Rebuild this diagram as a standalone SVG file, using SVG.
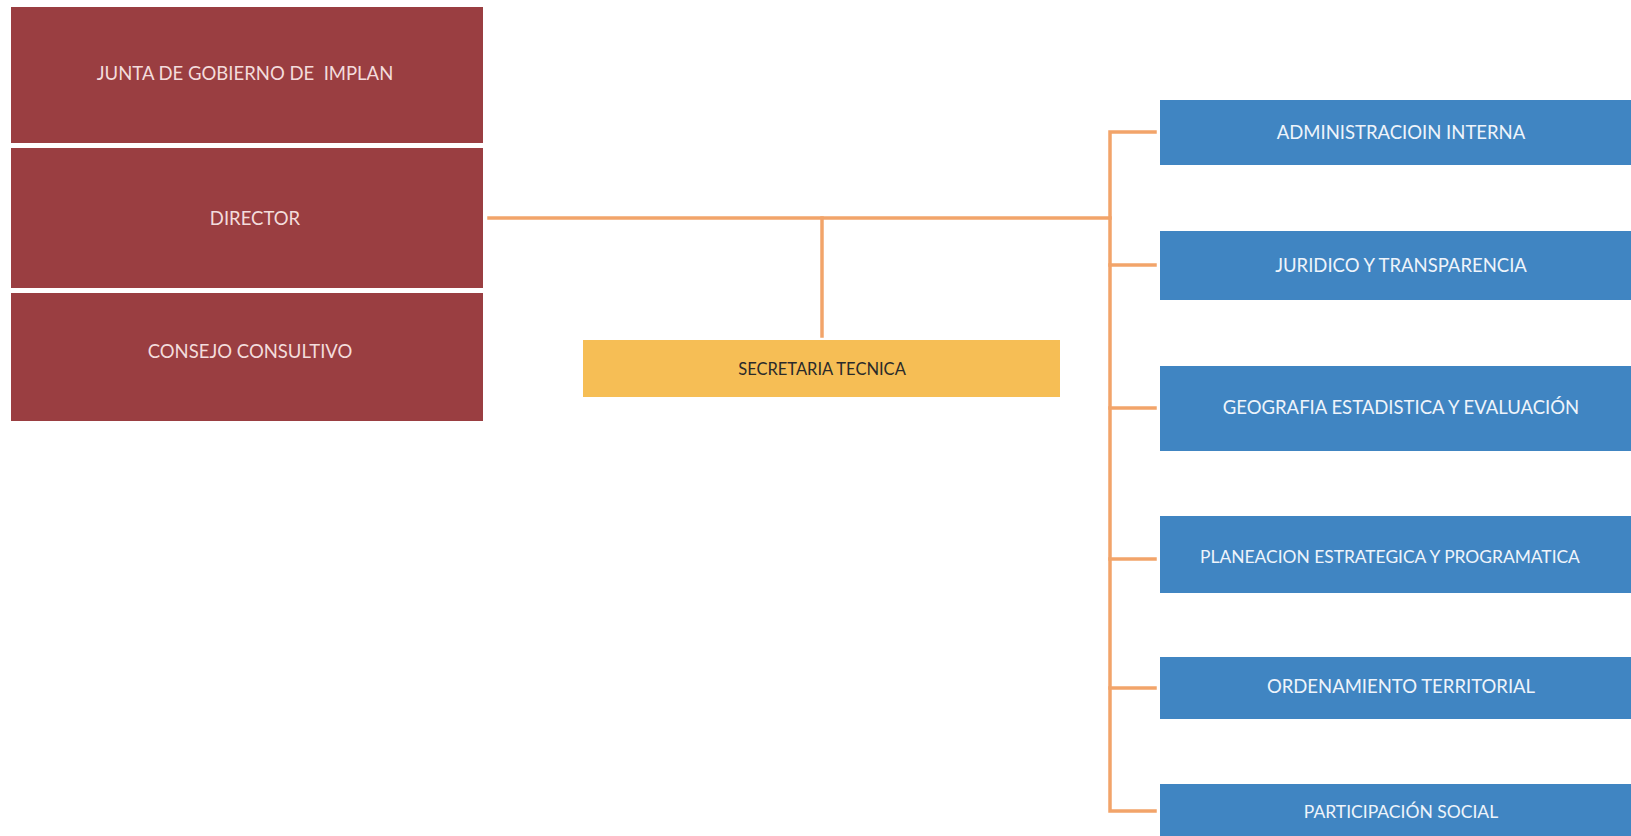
<svg xmlns="http://www.w3.org/2000/svg" width="1631" height="836" viewBox="0 0 1631 836">
<style>
.t{font-family:Lato,"Liberation Sans",sans-serif;font-size:18.5px;text-anchor:middle;dominant-baseline:central;white-space:pre}
.red rect{fill:#9a3e41}
.red text{fill:#f3dcdc}
.blue rect{fill:#4085c2}
.blue text{fill:#eef4fb}
.yel rect{fill:#f6be55}
.yel text{fill:#2a2a2a;font-size:16.5px}
.conn{stroke:#f2a46a;stroke-width:3.5;fill:none;stroke-linecap:square;stroke-linejoin:miter}
</style>
<rect width="1631" height="836" fill="#ffffff"/>
<g class="conn" id="connectors">
<path d="M489 218 H1110"/>
<path d="M822 218 V336"/>
<path d="M1155 132 H1110 V811 H1155"/>
<path d="M1110 265 H1155"/>
<path d="M1110 408 H1155"/>
<path d="M1110 559 H1155"/>
<path d="M1110 688 H1155"/>
</g>
<g id="junta" class="red"><rect x="11" y="7" width="472" height="136"/><text class="t" x="245" y="73">JUNTA DE GOBIERNO DE  IMPLAN</text></g>
<g id="director" class="red"><rect x="11" y="148" width="472" height="140"/><text class="t" x="255" y="218">DIRECTOR</text></g>
<g id="consejo" class="red"><rect x="11" y="293" width="472" height="128"/><text class="t" x="250" y="351">CONSEJO CONSULTIVO</text></g>
<g id="secretaria" class="yel"><rect x="583" y="340" width="477" height="57"/><text class="t" x="822" y="369">SECRETARIA TECNICA</text></g>
<g id="admin" class="blue"><rect x="1160" y="100" width="471" height="65"/><text class="t" x="1401" y="132">ADMINISTRACIOIN INTERNA</text></g>
<g id="juridico" class="blue"><rect x="1160" y="231" width="471" height="69"/><text class="t" x="1401" y="265">JURIDICO Y TRANSPARENCIA</text></g>
<g id="geografia" class="blue"><rect x="1160" y="366" width="471" height="85"/><text class="t" x="1401" y="407">GEOGRAFIA ESTADISTICA Y EVALUACIÓN</text></g>
<g id="planeacion" class="blue"><rect x="1160" y="516" width="471" height="77"/><text class="t" x="1390" y="556" style="font-size:17.4px">PLANEACION ESTRATEGICA Y PROGRAMATICA</text></g>
<g id="ordenamiento" class="blue"><rect x="1160" y="657" width="471" height="62"/><text class="t" x="1401" y="686">ORDENAMIENTO TERRITORIAL</text></g>
<g id="participacion" class="blue"><rect x="1160" y="784" width="471" height="60"/><text class="t" x="1401" y="811" style="font-size:17.5px">PARTICIPACIÓN SOCIAL</text></g>
</svg>
